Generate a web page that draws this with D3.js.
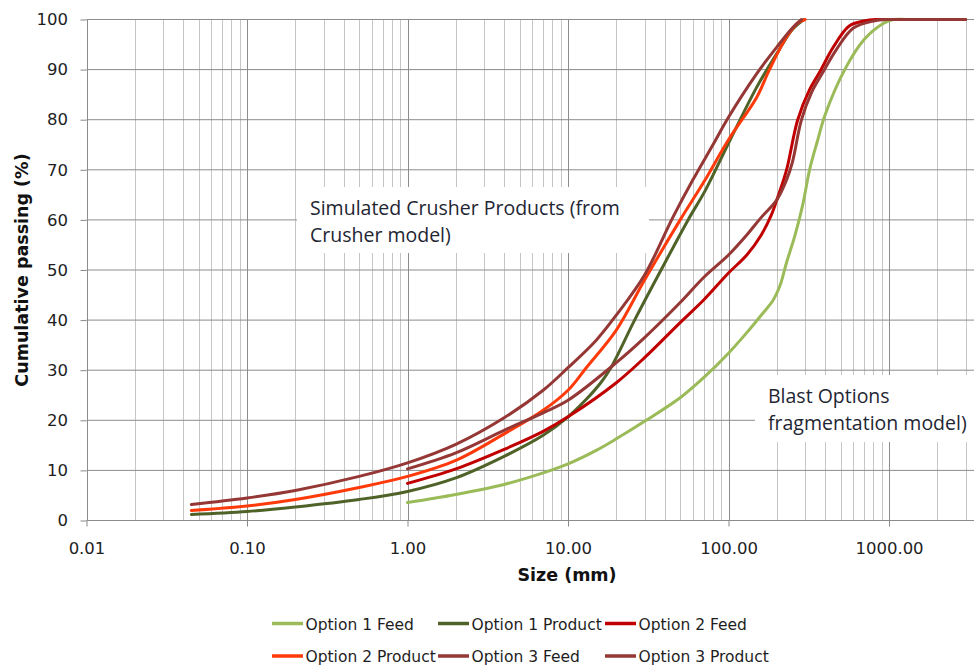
<!DOCTYPE html>
<meta charset="utf-8">
<style>
body { margin: 0; background: #fff; }
.curve { fill: none; stroke-width: 3px; stroke-linejoin: round; stroke-linecap: round; }
.tick text { font-family: "DejaVu Sans", Verdana, sans-serif; font-size: 16.5px; fill: #1e1e1e; }
.tick line { stroke: #898989; }
.domain { display: none; }
.note { font-family: "Open Sans", Lato, sans-serif; font-size: 19.5px; fill: #1f2633; }
.legend text { font-family: "DejaVu Sans", Verdana, sans-serif; font-size: 15.5px; fill: #1e1e1e; }
.title { font-family: "DejaVu Sans", Verdana, sans-serif; font-weight: bold; font-size: 17.5px; fill: #111; }
</style>
<body>
<script src="https://cdn.jsdelivr.net/npm/d3@7"></script>
<script>

// size (mm), cumulative passing (%)
var option1Feed = [[1, 3.6], [2, 5.2], [4, 7.2], [7, 9.5], [10, 11.3], [15, 14], [20, 16.3], [30, 19.8],
  [50, 24.5], [70, 28.5], [100, 33.4], [130, 37.5], [160, 41], [190, 44], [210, 47], [230, 51.5],
  [260, 57], [290, 63], [320, 70], [360, 76], [400, 81], [530, 90], [700, 96], [920, 99.2],
  [1060, 100], [1300, 100], [1800, 100], [3000, 100]];
var option1Product = [[0.045, 1.2], [0.1, 1.8], [0.2, 2.7], [0.5, 4.2], [1, 5.8], [2, 8.5], [4, 12.8],
  [7, 17], [10, 20.7], [13, 24.2], [16, 27.5], [18.5, 30.5], [26, 40], [38, 50], [56, 60], [72, 66],
  [100, 75.3], [150, 86.5], [200, 93.2], [250, 98], [295, 100]];
var option2Feed = [[1, 7.4], [2, 10.3], [4, 14.2], [7, 17.8], [10, 20.7], [20, 27.5], [30, 32.5], [50, 39.5],
  [70, 44], [100, 49.4], [130, 53], [160, 57], [185, 61], [205, 65], [230, 70], [270, 80], [320, 86],
  [370, 89.5], [450, 94.5], [565, 98.7], [700, 99.7], [830, 100], [1000, 100], [1500, 100], [3000, 100]];
var option2Product = [[0.045, 2], [0.1, 2.9], [0.2, 4.2], [0.5, 6.6], [1, 8.8], [2, 12], [4, 17.3],
  [7, 22], [10, 26], [13, 30.5], [20, 38], [30, 48], [50, 60], [70, 67.5], [100, 76], [150, 84.5],
  [180, 90], [230, 96.5], [270, 99.3], [300, 100]];
var option3Feed = [[1, 10.3], [2, 13.5], [4, 18], [7, 21.5], [10, 24], [20, 31.5], [30, 36.5], [50, 43.5],
  [70, 48.5], [100, 53], [130, 57], [160, 60.5], [200, 64], [230, 68], [250, 71.5], [285, 80],
  [330, 85.5], [380, 89], [470, 94], [600, 98.3], [800, 99.7], [1000, 100], [1200, 100], [1800, 100],
  [3000, 100]];
var option3Product = [[0.045, 3.2], [0.1, 4.5], [0.2, 6], [0.5, 8.8], [1, 11.5], [2, 15.2], [4, 20.5],
  [7, 26], [10, 30.5], [15, 36], [20, 41], [30, 49], [45, 60.5], [60, 68], [80, 75], [100, 80.5],
  [150, 89.2], [200, 94.5], [250, 98.3], [285, 100]];

var seriesNames = ["Option 1 Feed", "Option 1 Product", "Option 2 Feed",
                   "Option 2 Product", "Option 3 Feed", "Option 3 Product"];
var seriesData = [option1Feed, option1Product, option2Feed, option2Product, option3Feed, option3Product];
var seriesColors = ["#9bbb59", "#4f6228", "#c00000", "#ff3a0a", "#953735", "#953735"];

var xTicks = [0.01, 0.1, 1, 10, 100, 1000];
var yTicks = [0, 10, 20, 30, 40, 50, 60, 70, 80, 90, 100];

var width = 974, height = 668;

var x = d3.scaleLog().domain([0.01, 10000]).range([86.5, 1049.5]);
var y = d3.scaleLinear().domain([0, 100]).range([520.5, 19.5]);

var svg = d3.select("body").append("svg")
    .attr("width", width)
    .attr("height", height);

// minor vertical grid
var minor = [];
for (var e = -2; e < 4; e++) {
  for (var m = 2; m < 10; m++) minor.push(m * Math.pow(10, e));
}
svg.append("g").selectAll("line")
    .data(minor)
  .enter().append("line")
    .attr("x1", function(d) { return Math.round(x(d)) + 0.5; })
    .attr("x2", function(d) { return Math.round(x(d)) + 0.5; })
    .attr("y1", y(100)).attr("y2", y(0))
    .style("stroke", "#c6c6c6");

// major vertical grid
svg.append("g").selectAll("line")
    .data(xTicks)
  .enter().append("line")
    .attr("x1", function(d) { return Math.round(x(d)) + 0.5; })
    .attr("x2", function(d) { return Math.round(x(d)) + 0.5; })
    .attr("y1", y(100)).attr("y2", y(0))
    .style("stroke", "#8c8c8c");

// horizontal grid
svg.append("g").selectAll("line")
    .data(yTicks)
  .enter().append("line")
    .attr("x1", x(0.01)).attr("x2", width)
    .attr("y1", function(d) { return y(d); })
    .attr("y2", function(d) { return y(d); })
    .style("stroke", "#8c8c8c");

// axes (ticks + labels)
svg.append("g")
    .attr("transform", "translate(0," + y(0) + ")")
    .call(d3.axisBottom(x).tickValues(xTicks).tickFormat(d3.format(".2f"))
      .tickSize(6).tickPadding(16));

svg.append("g")
    .attr("transform", "translate(" + x(0.01) + ",0)")
    .call(d3.axisLeft(y).tickValues(yTicks).tickFormat(d3.format("d"))
      .tickSize(6).tickPadding(12.5));

// annotation boxes
svg.append("rect").attr("x", 297).attr("y", 187).attr("width", 352).attr("height", 66).style("fill", "#fff");
svg.append("rect").attr("x", 755).attr("y", 375).attr("width", 230).attr("height", 67).style("fill", "#fff");

var note1 = svg.append("text").attr("class", "note").attr("x", 310).attr("y", 215);
note1.append("tspan").text("Simulated Crusher Products (from");
note1.append("tspan").attr("x", 310).attr("dy", 27).text("Crusher model)");

var note2 = svg.append("text").attr("class", "note").attr("x", 768).attr("y", 403);
note2.append("tspan").text("Blast Options");
note2.append("tspan").attr("x", 768).attr("dy", 27).text("fragmentation model)");

// curves
var line = d3.line()
    .x(function(d) { return x(d[0]); })
    .y(function(d) { return y(d[1]); })
    .curve(d3.curveCatmullRom.alpha(0.5));

seriesData.forEach(function(s, i) {
  svg.append("path")
      .datum(s)
      .attr("class", "curve")
      .attr("d", line)
      .style("stroke", seriesColors[i]);
});

// axis titles
svg.append("text")
    .attr("class", "title")
    .attr("text-anchor", "middle")
    .attr("transform", "translate(28,270)rotate(-90)")
    .text("Cumulative passing (%)");

svg.append("text")
    .attr("class", "title")
    .attr("text-anchor", "middle")
    .attr("x", 567).attr("y", 581)
    .text("Size (mm)");

// legend
var legendX = [272, 438, 605];
var legendY = [623.5, 656];
var legend = svg.append("g").attr("class", "legend");
seriesNames.forEach(function(name, i) {
  var lx = legendX[i % 3], ly = legendY[Math.floor(i / 3)];
  legend.append("line")
      .attr("x1", lx).attr("x2", lx + 31)
      .attr("y1", ly).attr("y2", ly)
      .style("stroke", seriesColors[i])
      .style("stroke-width", 3.5);
  legend.append("text")
      .attr("x", lx + 33.5).attr("y", ly + 6)
      .text(name);
});

</script>
</body>
</html>
